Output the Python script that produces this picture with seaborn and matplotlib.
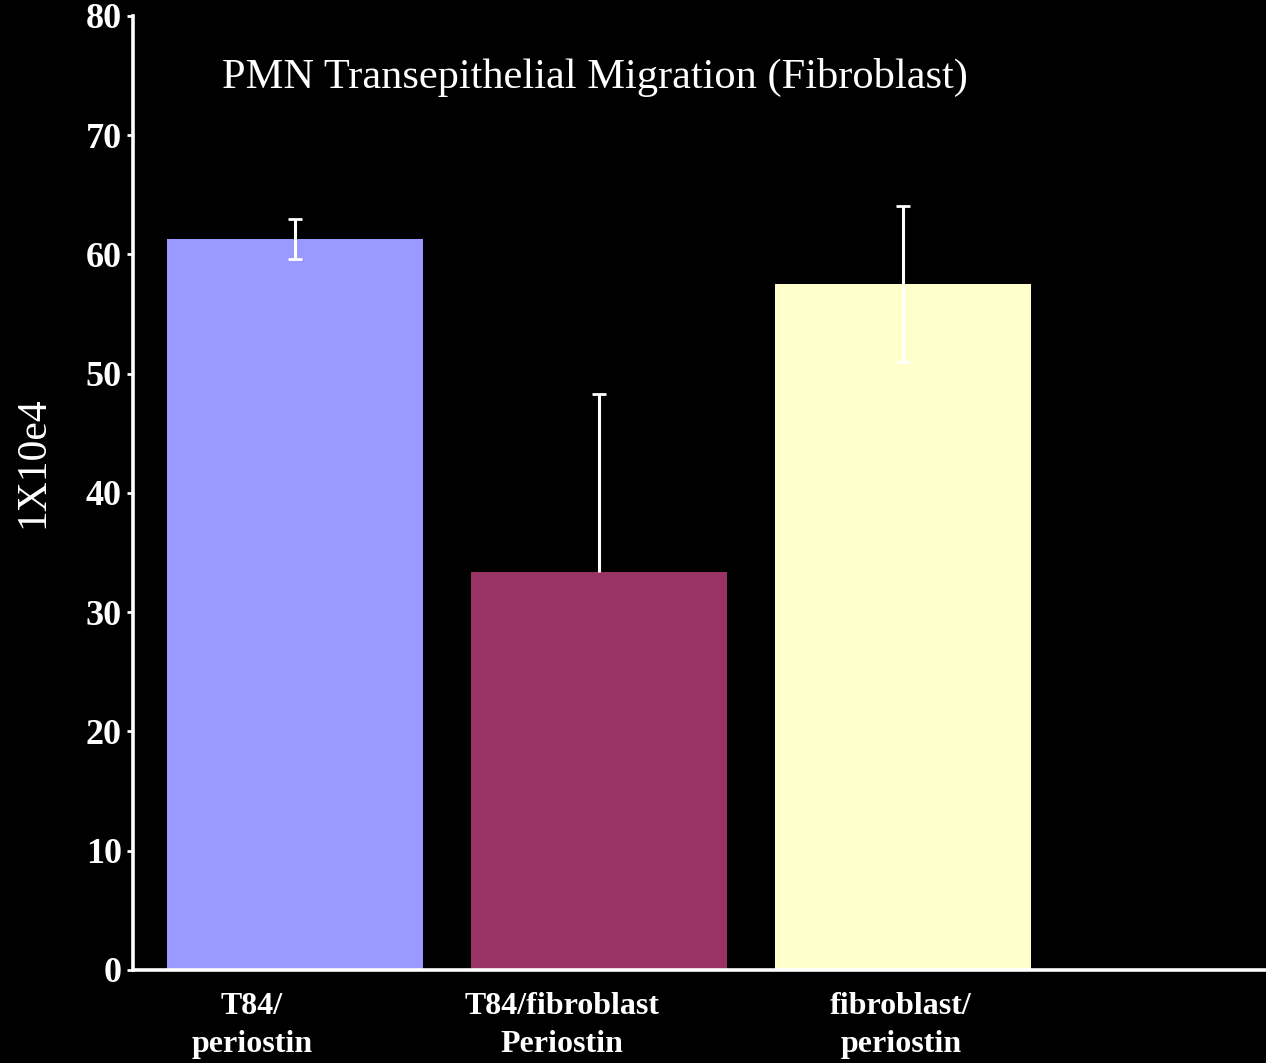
import numpy as np
import matplotlib
matplotlib.use('Agg')
import matplotlib.pyplot as plt
from matplotlib.transforms import ScaledTranslation
import seaborn as sns

# --- Data ---
categories = ['T84/\nperiostin', 'T84/fibroblast\nPeriostin', 'fibroblast/\nperiostin']
means = [61.3, 33.4, 57.5]
err_lower = [1.65, 0.0, 6.5]   # middle bar only shows the upper error
err_upper = [1.65, 14.9, 6.6]
bar_colors = ['#9999FF', '#993366', '#FFFFCC']

TITLE = 'PMN Transepithelial Migration (Fibroblast)'
YLABEL = '1X10e4'

plt.rcParams['font.family'] = ['Liberation Serif', 'DejaVu Serif']
plt.rcParams['font.weight'] = 'bold'

fig = plt.figure(figsize=(12.66, 10.63), dpi=100, facecolor='black')
ax = fig.add_axes([0.105, 0.0875, 0.895, 0.8975])
ax.set_facecolor('black')

sns.barplot(x=categories, y=means, hue=categories, palette=bar_colors,
            legend=False, width=0.84, linewidth=0, saturation=1, ax=ax)

eb = ax.errorbar(np.arange(len(means)), means, yerr=[err_lower, err_upper],
                 fmt='none', ecolor='white', elinewidth=2.2, capsize=5,
                 capthick=2, zorder=5)
# drop the lower cap where there is no lower error
has_lower = np.array(err_lower) > 0
for cap in eb[1]:
    xd, yd = cap.get_data()
    if np.allclose(np.asarray(yd), np.array(means) - np.array(err_lower)):
        cap.set_data(np.asarray(xd)[has_lower], np.asarray(yd)[has_lower])

ax.set_ylim(0, 80)
ax.set_xlim(-0.533, 3.194)
ax.set_yticks(range(0, 81, 10))

for side in ['top', 'right']:
    ax.spines[side].set_visible(False)
for side in ['left', 'bottom']:
    ax.spines[side].set_color('white')
    ax.spines[side].set_linewidth(2.6)

ax.tick_params(axis='y', colors='white', labelsize=26, length=4, width=2, pad=4)
ax.tick_params(axis='x', colors='white', labelsize=23, length=0, pad=16)
ax.set_xlabel('')
ax.set_ylabel('')

# category labels sit a little left of the bar centres in the original
label_shift_px = [-43, -37, -2]
for lab, dx in zip(ax.get_xticklabels(), label_shift_px):
    lab.set_linespacing(1.4)
    lab.set_transform(lab.get_transform() + ScaledTranslation(dx / 100, 0, fig.dpi_scale_trans))

ax.text(0.408, 0.935, TITLE, transform=ax.transAxes, ha='center', va='center',
        color='white', fontsize=30.5, fontweight='normal')
fig.text(0.026, 0.565, YLABEL, rotation=90, ha='center', va='center',
         color='white', fontsize=30, fontweight='normal')

fig.savefig('out.png', dpi=100, facecolor='black')
